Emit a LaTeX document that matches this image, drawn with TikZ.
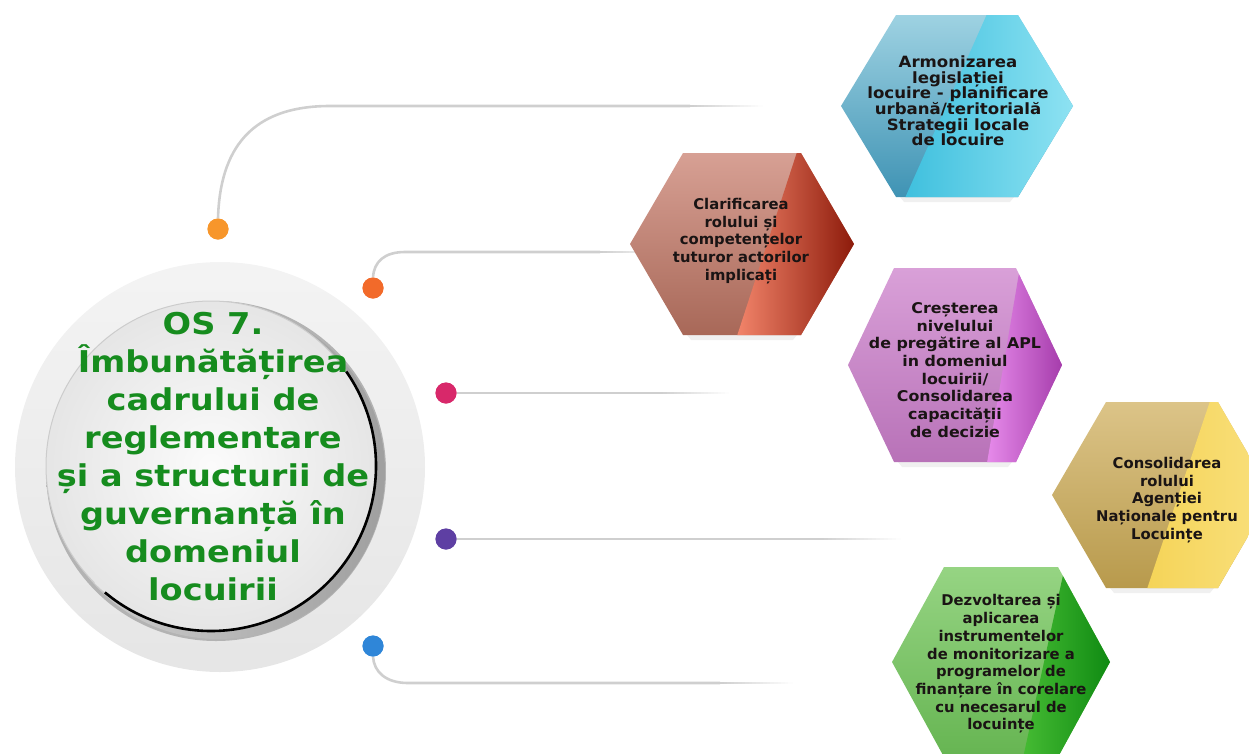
\documentclass[tikz,border=0pt]{standalone}
\usepackage{fontspec}
\setmainfont{DejaVu Sans}
\newfontfamily\widefont{DejaVu Sans}[FakeStretch=1.12]
\newfontfamily\hexwide{DejaVu Sans}[FakeStretch=1.07]
\usetikzlibrary{calc}
\definecolor{linegray}{HTML}{CFCFCF}
\definecolor{cOrange}{HTML}{F7962B}
\definecolor{cRedor}{HTML}{F26A2A}
\definecolor{cCrimson}{HTML}{D8286A}
\definecolor{cPurple}{HTML}{5E3FA3}
\definecolor{cBlue}{HTML}{2F86D8}
\definecolor{osgreen}{RGB}{22,140,30}
\definecolor{hextxt}{HTML}{1A1414}
% hex colours: a/b left part (top/bottom), c/d right part (left/right)
\definecolor{hbluea}{HTML}{9ED2E2}\definecolor{hblueb}{HTML}{3F93B4}
\definecolor{hbluec}{HTML}{3FC0DE}\definecolor{hblued}{HTML}{8EE2F2}
\definecolor{hreda}{HTML}{D7A094}\definecolor{hredb}{HTML}{A86858}
\definecolor{hredc}{HTML}{F2846A}\definecolor{hredd}{HTML}{8C1A0A}
\definecolor{hpinka}{HTML}{D9A0D8}\definecolor{hpinkb}{HTML}{B872B8}
\definecolor{hpinkc}{HTML}{E68AEA}\definecolor{hpinkd}{HTML}{A53CAB}
\definecolor{hgolda}{HTML}{DCC488}\definecolor{hgoldb}{HTML}{B89A4C}
\definecolor{hgoldc}{HTML}{F5D458}\definecolor{hgoldd}{HTML}{F9E07E}
\definecolor{hgreena}{HTML}{96D483}\definecolor{hgreenb}{HTML}{66B552}
\definecolor{hgreenc}{HTML}{45BB33}\definecolor{hgreend}{HTML}{0F8A12}
\tikzset{
  conn/.style={draw=linegray, line width=2.6pt},
  dotnode/.style={circle, minimum size=21pt, inner sep=0pt},
  hextext/.style={align=center, text=hextxt, font=\bfseries\fontsize{14.8}{17.7}\selectfont, inner sep=0pt},
}
% #1 cx, #2 cy, #3 hw, #4 t, #5 hh, #6 top split offset, #7 bottom split offset, #8 colour prefix
\newcommand\hexshape[8]{%
  \begin{scope}[shift={(#1,#2)}]
    \fill[gray!12] (-#4+4,#5) -- (#4-4,#5) -- (#4-8,#5+5) -- (-#4+8,#5+5) -- cycle;
    \begin{scope}
      \clip (-#3,0) -- (-#4,-#5) -- (#4,-#5) -- (#3,0) -- (#4,#5) -- (-#4,#5) -- cycle;
      \shade[top color=#8a, bottom color=#8b] (-#3,-#5) rectangle (#3,#5);
      \shade[left color=#8c, right color=#8d] (#6,-#5-1) -- (#3+1,-#5-1) -- (#3+1,#5+1) -- (#7,#5+1) -- cycle;
    \end{scope}
  \end{scope}}
% fading tail of a connector from coordinate #1 to coordinate #2
\newcommand\fadetail[2]{%
  \foreach \k in {0,...,19}{
    \pgfmathsetmacro\pc{100-5*\k}
    \draw[draw=linegray!\pc!white, line width=2.6pt]
      ($(#1)!\k/20!(#2)$) -- ($(#1)!\k/20+0.06!(#2)$);
  }}
\begin{document}
\begin{tikzpicture}[x=1pt,y=-1pt]
\useasboundingbox (0,0) rectangle (1249,753);
\begin{scope}
\clip (0,0) rectangle (1249,753);
% ---------- connectors ----------
\node[dotnode, fill=cOrange] (d1) at (218,229) {};
\node[dotnode, fill=cRedor] (d2) at (373,288) {};
\node[dotnode, fill=cCrimson] (d3) at (446,393) {};
\node[dotnode, fill=cPurple] (d4) at (446,539) {};
\node[dotnode, fill=cBlue] (d5) at (373,646) {};
\coordinate (e1) at (690,106); \coordinate (f1) at (762,106);
\coordinate (e2) at (600,252); \coordinate (f2) at (665,252);
\coordinate (e3) at (660,393); \coordinate (f3) at (728,393);
\coordinate (e4) at (820,539); \coordinate (f4) at (900,539);
\coordinate (e5) at (720,683); \coordinate (f5) at (792,683);
\draw[conn] (d1.north) .. controls (220,150) and (250,106) .. (330,106) -- (e1);
\draw[conn] (d2.north) .. controls (374,262) and (384,252) .. (405,252) -- (e2);
\draw[conn] (d3.east) -- (e3);
\draw[conn] (d4.east) -- (e4);
\draw[conn] (d5.south) .. controls (374,672) and (386,683) .. (408,683) -- (e5);
\fadetail{e1}{f1}
\fadetail{e2}{f2}
\fadetail{e3}{f3}
\fadetail{e4}{f4}
\fadetail{e5}{f5}
% redraw dots over line starts
\node[dotnode, fill=cOrange] at (d1) {};
\node[dotnode, fill=cRedor] at (d2) {};
\node[dotnode, fill=cCrimson] at (d3) {};
\node[dotnode, fill=cPurple] at (d4) {};
\node[dotnode, fill=cBlue] at (d5) {};
% ---------- central disc ----------
\shade[top color=gray!9, bottom color=gray!20] (220,467) circle (205);
\shade[inner color=gray!20, outer color=gray!60] (216,471) circle (170);
\shade[left color=gray!35, right color=gray!75] (218,472) circle (167);
\shade[inner color=gray!3, outer color=gray!20] (211,466) circle (165);
\draw[black, line width=2.6pt] (211,466) ++(-35:165) arc (-35:130:165);
\draw[gray!40, line width=1pt] (211,466) ++(135:165) arc (135:325:165);
\node[align=center, text=osgreen, font=\widefont\bfseries\fontsize{30}{38}\selectfont, inner sep=0pt] (os) at (213,457)
  {OS 7.\\Îmbunătățirea\\cadrului de\\reglementare\\și a structurii de\\guvernanță în\\domeniul\\locuirii};
% ---------- hexagons ----------
\hexshape{957}{106}{116}{61}{91}{30}{-52}{hblue}
\hexshape{742}{244}{112}{59}{91}{55}{-5}{hred}
\hexshape{955}{365}{107}{61}{97}{65}{32}{hpink}
\hexshape{1162}{495}{110}{56}{93}{48}{-15}{hgold}
\hexshape{1001}{662}{109}{57}{95}{64}{22}{hgreen}
\node[hextext, font=\hexwide\bfseries\fontsize{15.5}{15.6}\selectfont] (h1) at (958,101)
  {Armonizarea\\legislației\\locuire - planificare\\urbană/teritorială\\Strategii locale\\de locuire};
\node[hextext] (h2) at (741,241)
  {Clarificarea\\rolului și\\competențelor\\tuturor actorilor\\implicați};
\node[hextext, font=\hexwide\bfseries\fontsize{14.8}{17.7}\selectfont] (h3) at (955,370)
  {Creșterea\\nivelului\\de pregătire al APL\\in domeniul\\locuirii/\\Consolidarea\\capacității\\de decizie};
\node[hextext] (h4) at (1167,500)
  {Consolidarea\\rolului\\Agenției\\Naționale pentru\\Locuințe};
\node[hextext] (h5) at (1001,664)
  {Dezvoltarea și\\aplicarea\\instrumentelor\\de monitorizare a\\programelor de\\finanțare în corelare\\cu necesarul de\\locuințe};
\end{scope}
\end{tikzpicture}
\end{document}
